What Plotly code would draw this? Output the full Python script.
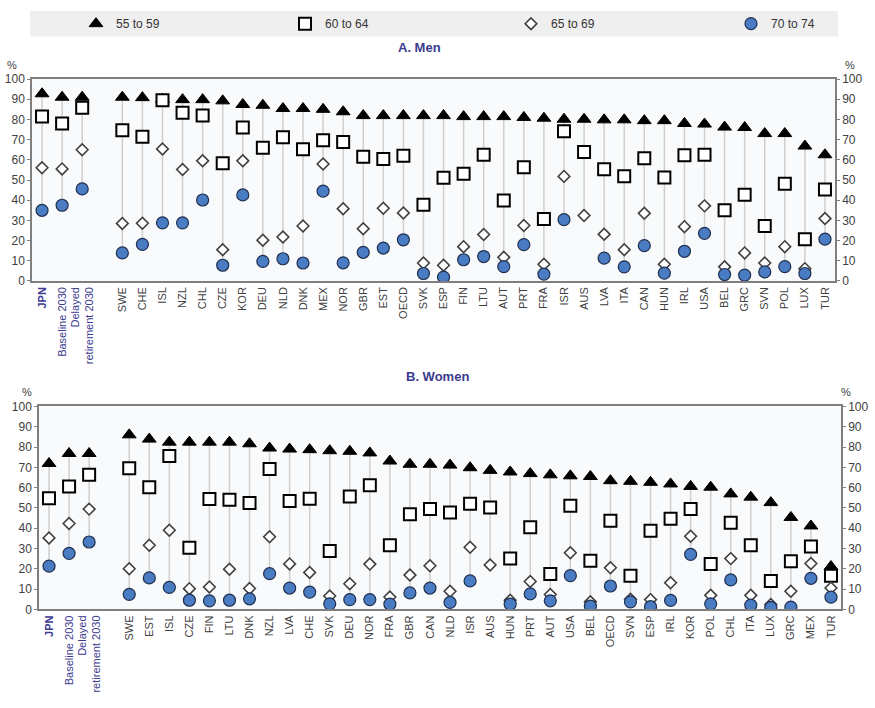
import plotly.graph_objects as go

# Employment rates by age group, men and women (%)
men_countries = ["JPN", "Baseline 2030", "Delayed retirement 2030", "",
                 "SWE", "CHE", "ISL", "NZL", "CHL", "CZE", "KOR", "DEU", "NLD", "DNK",
                 "MEX", "NOR", "GBR", "EST", "OECD", "SVK", "ESP", "FIN", "LTU", "AUT",
                 "PRT", "FRA", "ISR", "AUS", "LVA", "ITA", "CAN", "HUN", "IRL", "USA",
                 "BEL", "GRC", "SVN", "POL", "LUX", "TUR"]
men_55_59 = [92.7, 91.0, 91.0, None,
             91.0, 90.8, 90.0, 89.8, 89.8, 89.2, 87.4, 87.0, 85.4, 85.4,
             85.0, 83.8, 81.9, 81.9, 81.9, 81.9, 81.9, 81.4, 81.4, 81.4,
             81.0, 80.6, 80.1, 80.1, 79.8, 79.8, 79.4, 79.4, 78.0, 77.7,
             76.2, 76.0, 73.0, 73.0, 66.8, 62.5]
men_60_64 = [81.4, 78.0, 85.8, None,
             74.6, 71.4, 89.5, 83.3, 82.0, 58.3, 76.0, 66.0, 71.2, 65.2,
             69.7, 68.8, 61.5, 60.4, 62.0, 37.7, 51.1, 53.1, 62.5, 39.8,
             56.3, 30.7, 74.1, 63.9, 55.3, 51.9, 60.8, 51.3, 62.3, 62.5,
             35.0, 42.7, 27.2, 48.2, 20.7, 45.3]
men_65_69 = [56.1, 55.5, 65.0, None,
             28.5, 28.6, 65.4, 55.2, 59.5, 15.5, 59.5, 20.2, 21.8, 27.2,
             57.9, 35.8, 25.9, 36.0, 33.7, 8.9, 7.8, 17.0, 23.0, 11.7,
             27.5, 8.3, 51.8, 32.4, 23.1, 15.5, 33.5, 8.3, 26.9, 37.2,
             7.0, 13.9, 8.9, 17.0, 6.1, 30.9]
men_70_74 = [35.0, 37.5, 45.6, None,
             13.9, 18.1, 28.8, 28.8, 40.1, 7.8, 42.6, 9.7, 11.0, 8.9,
             44.5, 9.0, 14.2, 16.3, 20.4, 3.7, 1.9, 10.5, 12.1, 7.1,
             18.0, 3.4, 30.4, None, 11.3, 7.0, 17.5, 3.9, 14.7, 23.6,
             3.2, 2.9, 4.5, 7.1, 3.7, 20.7]

women_countries = ["JPN", "Baseline 2030", "Delayed retirement 2030", "",
                   "SWE", "EST", "ISL", "CZE", "FIN", "LTU", "DNK", "NZL", "LVA", "CHE",
                   "SVK", "DEU", "NOR", "FRA", "GBR", "CAN", "NLD", "ISR", "AUS", "HUN",
                   "PRT", "AUT", "USA", "BEL", "OECD", "SVN", "ESP", "IRL", "KOR", "POL",
                   "CHL", "ITA", "LUX", "GRC", "MEX", "TUR"]
women_55_59 = [71.9, 76.8, 76.8, None,
               86.0, 83.9, 82.4, 82.4, 82.4, 82.4, 81.6, 79.5, 79.0, 78.7,
               78.2, 77.9, 77.1, 73.1, 71.5, 71.5, 71.1, 69.8, 68.5, 67.7,
               66.9, 66.3, 65.8, 65.5, 63.4, 63.1, 62.6, 61.8, 60.6, 60.2,
               56.9, 55.3, 52.6, 45.3, 41.1, 21.1]
women_60_64 = [54.8, 60.5, 66.3, None,
               69.5, 60.2, 75.6, 30.3, 54.4, 54.0, 52.4, 69.2, 53.4, 54.5,
               28.7, 55.6, 61.1, 31.6, 46.9, 49.4, 47.7, 52.1, 50.2, 25.0,
               40.5, 17.4, 51.0, 23.9, 43.7, 16.6, 38.7, 44.7, 49.4, 22.3,
               42.7, 31.6, 14.0, 23.7, 31.0, 16.6]
women_65_69 = [35.2, 42.3, 49.4, None,
               20.0, 31.6, 39.0, 10.2, 11.0, 19.8, 10.3, 35.8, 22.4, 18.2,
               6.6, 12.6, 22.3, 6.1, 16.9, 21.5, 8.9, 30.6, 21.9, 4.5,
               13.7, 7.3, 27.9, 3.7, 20.5, 5.0, 4.8, 13.1, 36.0, 6.9,
               25.0, 6.9, 2.4, 8.9, 22.6, 10.5]
women_70_74 = [21.3, 27.6, 33.2, None,
               7.4, 15.5, 10.8, 4.5, 4.2, 4.5, 5.2, 17.6, 10.5, 8.5,
               2.7, 4.8, 4.8, 2.6, 8.1, 10.5, 3.4, 14.0, None, 2.6,
               7.6, 4.2, 16.6, 1.6, 11.5, 3.7, 1.3, 4.4, 27.1, 2.7,
               14.5, 2.1, 1.0, 1.1, 15.3, 6.0]

age_groups = ["55 to 59", "60 to 64", "65 to 69", "70 to 74"]
y_ticks = list(range(0, 101, 10))

W, H = 875, 708
NAVY = "#3b3b8f"
TXT = "#404040"
FONT = "Liberation Sans Narrow, Arial Narrow, Liberation Sans, Arial"


def px_x(p):
    return p / W


def px_y(p):
    return 1 - p / H


def tick_label(name):
    if name == "JPN":
        return f"<b><span style='color:{NAVY}'>JPN</span></b>"
    if name == "Baseline 2030":
        return f"<span style='color:{NAVY}'>Baseline 2030</span>"
    if name == "Delayed retirement 2030":
        return f"<span style='color:{NAVY}'>Delayed<br>retirement 2030</span>"
    return name


styles = [
    dict(symbol="triangle-up", size=12, color="black", line=dict(color="black", width=1)),
    dict(symbol="square", size=12, color="white", line=dict(color="black", width=2)),
    dict(symbol="diamond", size=9, color="white", line=dict(color="#404040", width=1.6)),
    dict(symbol="circle", size=12, color="#4a7cc4", line=dict(color="#1f2f4f", width=1.2)),
]
legend_ids = ["legend", "legend2", "legend3", "legend4"]

fig = go.Figure()


def add_panel(countries, series, xa, ya, ya_right, showlegend):
    xs = list(range(len(countries)))
    # vertical connectors from highest to lowest value per country
    lx, ly = [], []
    for i in xs:
        vals = [s[i] for s in series if s[i] is not None]
        if vals:
            lx += [i, i, None]
            ly += [max(vals), min(vals), None]
    fig.add_trace(go.Scatter(x=lx, y=ly, mode="lines", xaxis=xa, yaxis=ya,
                             line=dict(color="#cfcfcf", width=1.5),
                             showlegend=False, hoverinfo="skip"))
    for name, vals, st, lg in zip(age_groups, series, styles, legend_ids):
        fig.add_trace(go.Scatter(x=xs, y=vals, mode="markers", name=name,
                                 xaxis=xa, yaxis=ya, marker=st, legend=lg,
                                 showlegend=showlegend, legendgroup=name))
    # invisible trace so the right-hand axis is drawn
    fig.add_trace(go.Scatter(x=[0], y=[0], xaxis=xa, yaxis=ya_right, mode="markers",
                             marker=dict(opacity=0), showlegend=False, hoverinfo="skip"))


add_panel(men_countries, [men_55_59, men_60_64, men_65_69, men_70_74],
          "x", "y", "y3", True)
add_panel(women_countries, [women_55_59, women_60_64, women_65_69, women_70_74],
          "x2", "y2", "y4", False)

tick_font = dict(family=FONT, size=11, color=TXT)


def xaxis(countries, dom, anchor):
    return dict(domain=dom, anchor=anchor, range=[-0.5, len(countries) - 0.5],
                tickmode="array", tickvals=list(range(len(countries))),
                ticktext=[tick_label(c) for c in countries], tickangle=-90,
                tickfont=tick_font, showgrid=False, zeroline=False,
                showline=True, linecolor="#7f7f7f", linewidth=1.5, mirror=True,
                ticks="", fixedrange=True)


def yaxis(dom, anchor, side="left", overlaying=None):
    d = dict(domain=dom, anchor=anchor, range=[0, 100], tickvals=y_ticks,
             tickfont=dict(family=FONT, size=12, color=TXT),
             showgrid=False, zeroline=False, side=side,
             showline=True, linecolor="#7f7f7f", linewidth=1.5,
             ticks="outside", ticklen=3, tickcolor="#7f7f7f")
    if overlaying:
        d["overlaying"] = overlaying
    return d


def legend_at(xpx):
    return dict(orientation="h", x=px_x(xpx), y=px_y(17), xanchor="left", yanchor="middle",
                bgcolor="rgba(0,0,0,0)", itemclick=False, itemdoubleclick=False,
                font=dict(family=FONT, size=12, color="#333333"))


men_x = [px_x(32), px_x(835)]
men_y = [px_y(279.5), px_y(73.5)]
wom_x = [px_x(39), px_x(841)]
wom_y = [px_y(614.5), px_y(407.5)]


def note(text, x, y, size=11, color=TXT):
    return dict(text=text, x=px_x(x), y=px_y(y), xref="paper", yref="paper",
                xanchor="center", yanchor="middle", showarrow=False,
                font=dict(family=FONT, size=size, color=color))


fig.update_layout(
    width=W, height=H,
    margin=dict(l=0, r=0, t=0, b=0),
    paper_bgcolor="white",
    plot_bgcolor="#f8fafb",
    font=dict(family=FONT, size=12, color=TXT),
    xaxis=xaxis(men_countries, men_x, "y"),
    yaxis=yaxis(men_y, "x"),
    yaxis3=yaxis(men_y, "x", side="right", overlaying="y"),
    xaxis2=xaxis(women_countries, wom_x, "y2"),
    yaxis2=yaxis(wom_y, "x2"),
    yaxis4=yaxis(wom_y, "x2", side="right", overlaying="y2"),
    legend=legend_at(76),
    legend2=legend_at(285),
    legend3=legend_at(511),
    legend4=legend_at(731),
    shapes=[dict(type="rect", xref="paper", yref="paper",
                 x0=px_x(30), x1=px_x(838), y0=px_y(30), y1=px_y(4),
                 fillcolor="#efefef", line=dict(width=0), layer="below")],
    annotations=[
        note("<b>A. Men</b>", 419, 41, size=13, color=NAVY),
        note("<b>B. Women</b>", 437, 377, size=13, color=NAVY),
        note("%", 12, 59),
        note("%", 850, 59),
        note("%", 27, 393),
        note("%", 846, 393),
    ],
)

fig.write_html("out.html")
